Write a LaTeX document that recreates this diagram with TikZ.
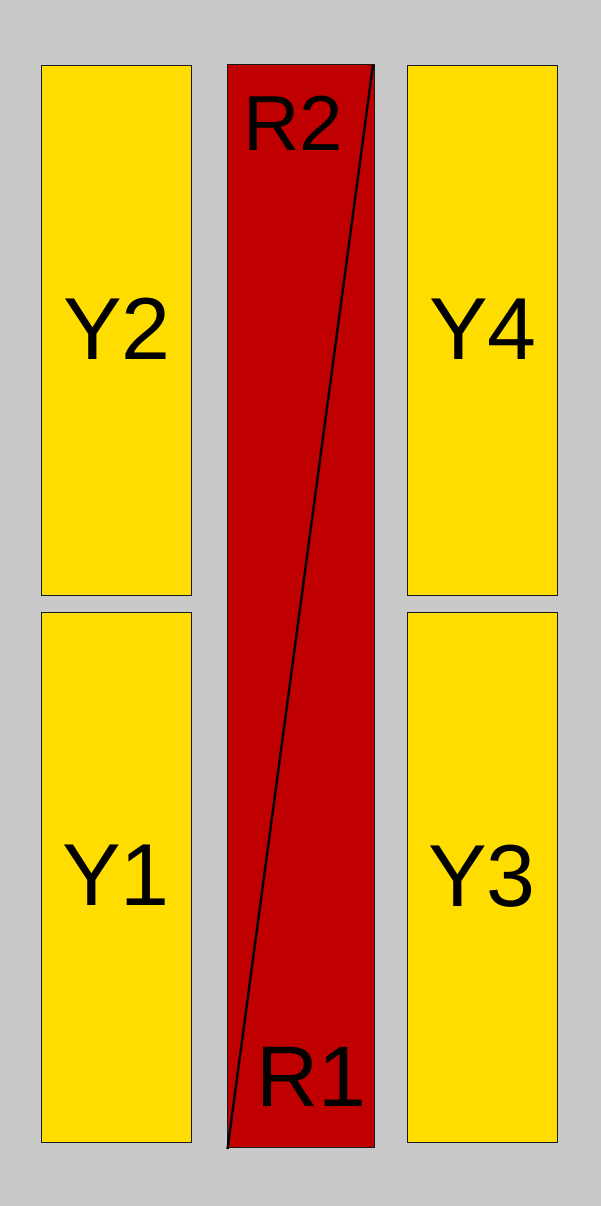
\documentclass[tikz,border=0pt]{standalone}
\usepackage{fontspec}
\setmainfont{Liberation Sans}
\definecolor{bggray}{HTML}{C9C9C9}
\definecolor{yfill}{HTML}{FFDD00}
\definecolor{rfill}{HTML}{C00000}
\begin{document}
\begin{tikzpicture}[x=1pt,y=-1pt,
  ybox/.style={draw=black!90,line width=0.9pt,fill=yfill,inner sep=0,outer sep=0,minimum width=150pt,minimum height=530pt},
  rbox/.style={draw=black!90,line width=0.9pt,fill=rfill,inner sep=0,outer sep=0,minimum width=147pt,minimum height=1083pt},
  ylab/.style={inner sep=0,font=\fontsize{88}{88}\selectfont},
  rlab/.style={inner sep=0},
  diag/.style={draw=black,line width=2.4pt}]
\fill[bggray] (0,0) rectangle (601,1206);
\useasboundingbox (0,0) rectangle (601,1206);
\node[ybox] (y2) at (116,330) {};
\node[ybox] (y1) at (116,877) {};
\node[ybox] (y4) at (482,330) {};
\node[ybox] (y3) at (482,877) {};
\node[rbox] (r) at (300.5,605.5) {};
\coordinate (dbot) at (227.5,1149);
\coordinate (dtop) at (373,65);
\draw[diag] (dbot) -- (dtop);
\node[ylab] (ly2) at (117,328.5) {Y2};
\node[ylab] (ly1) at (116,875) {Y1};
\node[ylab] (ly4) at (483,329.5) {Y4};
\node[ylab] (ly3) at (482,876) {Y3};
\node[rlab,font=\fontsize{78}{78}\selectfont] (lr2) at (293,123) {R2};
\node[rlab,font=\fontsize{86}{86}\selectfont] (lr1) at (311,1076.5) {R1};
\end{tikzpicture}
\end{document}
